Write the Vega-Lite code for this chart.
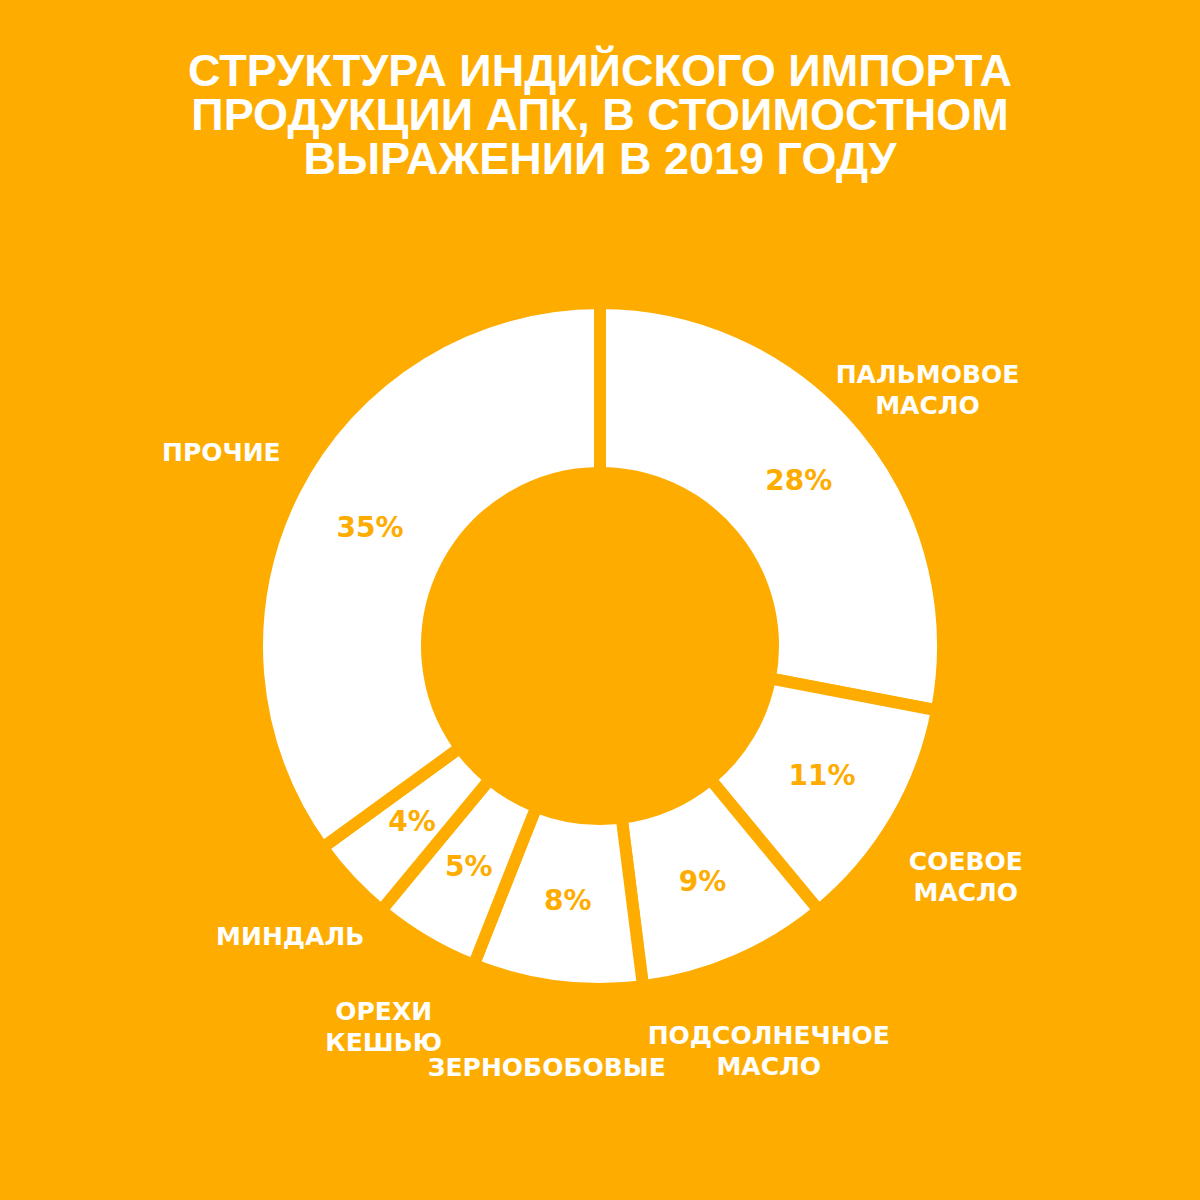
{
  "$schema": "https://vega.github.io/schema/vega-lite/v6.json",
  "background": "#FEAD00",
  "width": 1200,
  "height": 926,
  "padding": {"left": 0, "right": 0, "top": 50, "bottom": 92},
  "autosize": {"type": "pad"},
  "view": {"stroke": null},
  "title": {
    "text": ["СТРУКТУРА ИНДИЙСКОГО ИМПОРТА", "ПРОДУКЦИИ АПК, В СТОИМОСТНОМ", "ВЫРАЖЕНИИ В 2019 ГОДУ"],
    "font": "Liberation Sans",
    "fontWeight": "bold",
    "fontSize": 45,
    "lineHeight": 44,
    "color": "#FFFFFF",
    "anchor": "middle",
    "offset": 0
  },
  "data": {
    "values": [
      {"idx": 1, "category": "ПАЛЬМОВОЕ\nМАСЛО", "value": 28},
      {"idx": 2, "category": "СОЕВОЕ\nМАСЛО", "value": 11},
      {"idx": 3, "category": "ПОДСОЛНЕЧНОЕ\nМАСЛО", "value": 9},
      {"idx": 4, "category": "ЗЕРНОБОБОВЫЕ", "value": 8},
      {"idx": 5, "category": "ОРЕХИ\nКЕШЬЮ", "value": 5},
      {"idx": 6, "category": "МИНДАЛЬ", "value": 4},
      {"idx": 7, "category": "ПРОЧИЕ", "value": 35}
    ]
  },
  "transform": [{"calculate": "datum.value + '%'", "as": "pct"}],
  "encoding": {
    "theta": {"field": "value", "type": "quantitative", "stack": true},
    "order": {"field": "idx", "type": "quantitative"}
  },
  "layer": [
    {
      "mark": {"type": "arc", "fill": "#FFFFFF", "stroke": "#FEAD00", "strokeWidth": 12, "outerRadius": 343, "innerRadius": 173}
    },
    {
      "mark": {"type": "text", "radius": 258, "font": "DejaVu Sans", "fontWeight": "bold", "fontSize": 28, "color": "#FEAD00", "align": "center", "baseline": "middle"},
      "encoding": {"text": {"field": "pct", "type": "nominal"}}
    },
    {
      "mark": {"type": "text", "radius": 425, "font": "DejaVu Sans", "fontWeight": "bold", "fontSize": 25, "lineHeight": 31, "lineBreak": "\n", "color": "#FFFFFF", "align": "center", "baseline": "middle"},
      "encoding": {"text": {"field": "category", "type": "nominal"}}
    }
  ]
}
